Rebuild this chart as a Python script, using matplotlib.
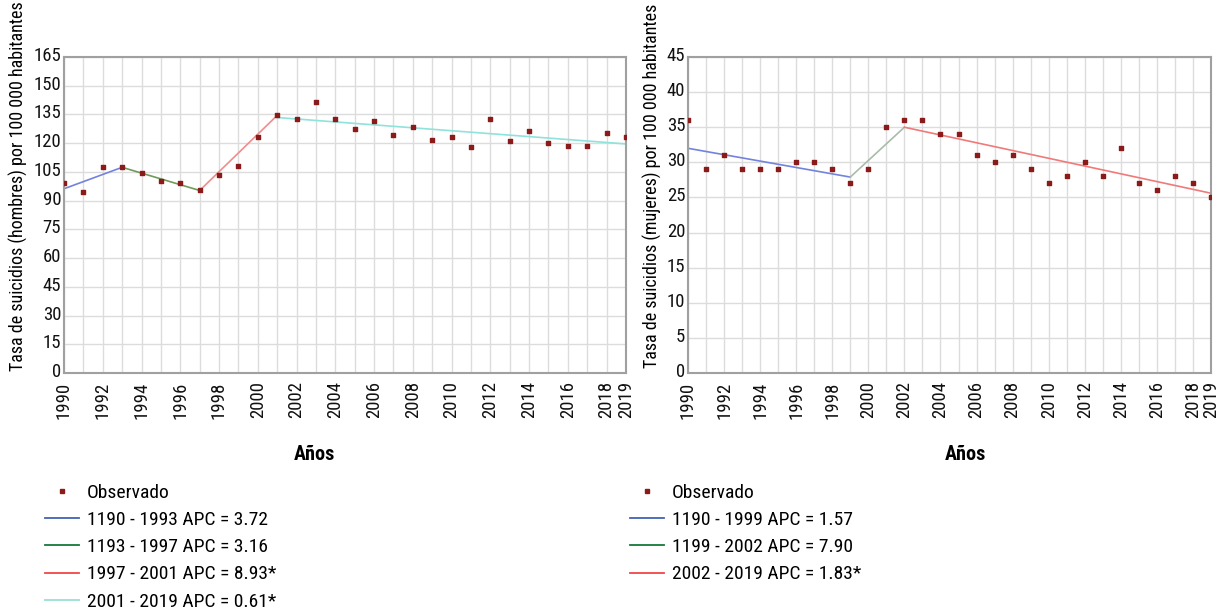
import matplotlib.pyplot as plt
from matplotlib.lines import Line2D
from matplotlib.transforms import ScaledTranslation

years = list(range(1990, 2020))

hombres = [99.3, 94.3, 107.4, 107.4, 104.5, 100.5, 99.3, 95.3, 103.3, 108.3,
           123.2, 134.5, 132.4, 141.4, 132.4, 127.4, 131.5, 124.3, 128.4, 121.5,
           123.4, 118.2, 132.4, 121.4, 126.5, 120.3, 118.4, 118.4, 125.5, 123.4]
mujeres = [36, 29, 31, 29, 29, 29, 30, 30, 29, 27,
           29, 35, 36, 36, 34, 34, 31, 30, 31, 29,
           27, 28, 30, 28, 32, 27, 26, 28, 27, 25]

# joinpoint segments: (start year, end year, start fit, end fit)
seg_h = [(1990, 1993, 96.2, 107.4), (1993, 1997, 107.4, 95.3),
         (1997, 2001, 95.3, 134.5), (2001, 2019, 133.4, 119.6)]
seg_m = [(1990, 1999, 32.0, 27.9), (1999, 2002, 27.9, 35.0),
         (2002, 2019, 35.0, 25.6)]

labels_h = ["Observado", "1190 - 1993 APC = 3.72", "1193 - 1997 APC = 3.16",
            "1997 - 2001 APC = 8.93*", "2001 - 2019 APC = 0.61*"]
labels_m = ["Observado", "1190 - 1999 APC = 1.57", "1199 - 2002 APC = 7.90",
            "2002 - 2019 APC = 1.83*"]

line_cols_h = ["#7383dd", "#6f9a5c", "#f28c8c", "#8fe3da"]
line_cols_m = ["#7383dd", "#a9bca9", "#f07a7a"]
legend_cols = ["#4462b4", "#16783a", "#f04848", "#9adfd3"]
dot_col = "#8b1a1a"

xticks = list(range(1990, 2019, 2)) + [2019]

plt.rcParams['font.family'] = ['Roboto Condensed', 'Liberation Sans', 'DejaVu Sans']

fig = plt.figure(figsize=(12.2, 6.16), dpi=100)
W, H = 1220, 616


def box(l, t, r, b):
    return [l / W, 1 - b / H, (r - l) / W, (b - t) / H]


ax1 = fig.add_axes(box(64, 57, 626, 373))
ax2 = fig.add_axes(box(688, 57, 1211, 373))


def draw(ax, vals, segs, cols, ymax, ystep):
    ax.scatter(years, vals, s=7, marker='s', color=dot_col, zorder=3, clip_on=True)
    for (x0, x1, y0, y1), c in zip(segs, cols):
        ax.plot([x0, x1], [y0, y1], color=c, lw=1.2, zorder=2)
    ax.set_xlim(1990, 2019)
    ax.set_ylim(0, ymax)
    ax.set_yticks(range(0, ymax + 1, ystep))
    ax.set_xticks(xticks)
    ax.set_xticks(years, minor=True)
    ax.set_xticklabels([str(y) for y in xticks], rotation=90)
    ax.grid(True, which='both', axis='x', color='#dcdcdc', lw=1)
    ax.grid(True, which='major', axis='y', color='#dcdcdc', lw=1)
    ax.set_axisbelow(True)
    ax.tick_params(which='both', length=0, labelsize=13.5, colors='#111111')
    ax.tick_params(axis='x', pad=6)
    ax.tick_params(axis='y', pad=2)
    shift = ScaledTranslation(0, 3 / 100, fig.dpi_scale_trans)
    for lab in ax.get_yticklabels():
        lab.set_transform(lab.get_transform() + shift)
    for s in ax.spines.values():
        s.set_color('#a0a0a0')
        s.set_linewidth(1.5)


draw(ax1, hombres, seg_h, line_cols_h, 165, 15)
draw(ax2, mujeres, seg_m, line_cols_m, 45, 5)

fig.text(18 / W, 1 - 186 / H, "Tasa de suicidios (hombres) por 100 000 habitantes",
         rotation=90, ha='center', va='center', fontsize=13)
fig.text(652 / W, 1 - 186 / H, "Tasa de suicidios (mujeres) por 100 000 habitantes",
         rotation=90, ha='center', va='center', fontsize=13)
fig.text(314 / W, 1 - 455 / H, "Años", ha='center', va='center', fontsize=14.5, fontweight='bold')
fig.text(965 / W, 1 - 455 / H, "Años", ha='center', va='center', fontsize=14.5, fontweight='bold')


def legend(labels, cols, x, y):
    handles = [Line2D([], [], ls='none', marker='s', ms=3.5, color=dot_col)]
    handles += [Line2D([], [], color=c, lw=1.3) for c in cols]
    fig.legend(handles, labels, loc='upper left', bbox_to_anchor=(x / W, 1 - y / H),
               frameon=False, fontsize=14, handlelength=1.75, handletextpad=0.4,
               labelspacing=0.47, borderpad=0, borderaxespad=0)


legend(labels_h, legend_cols, 45, 484)
legend(labels_m, legend_cols[:3], 630, 484)

fig.savefig("out.png", dpi=100)
